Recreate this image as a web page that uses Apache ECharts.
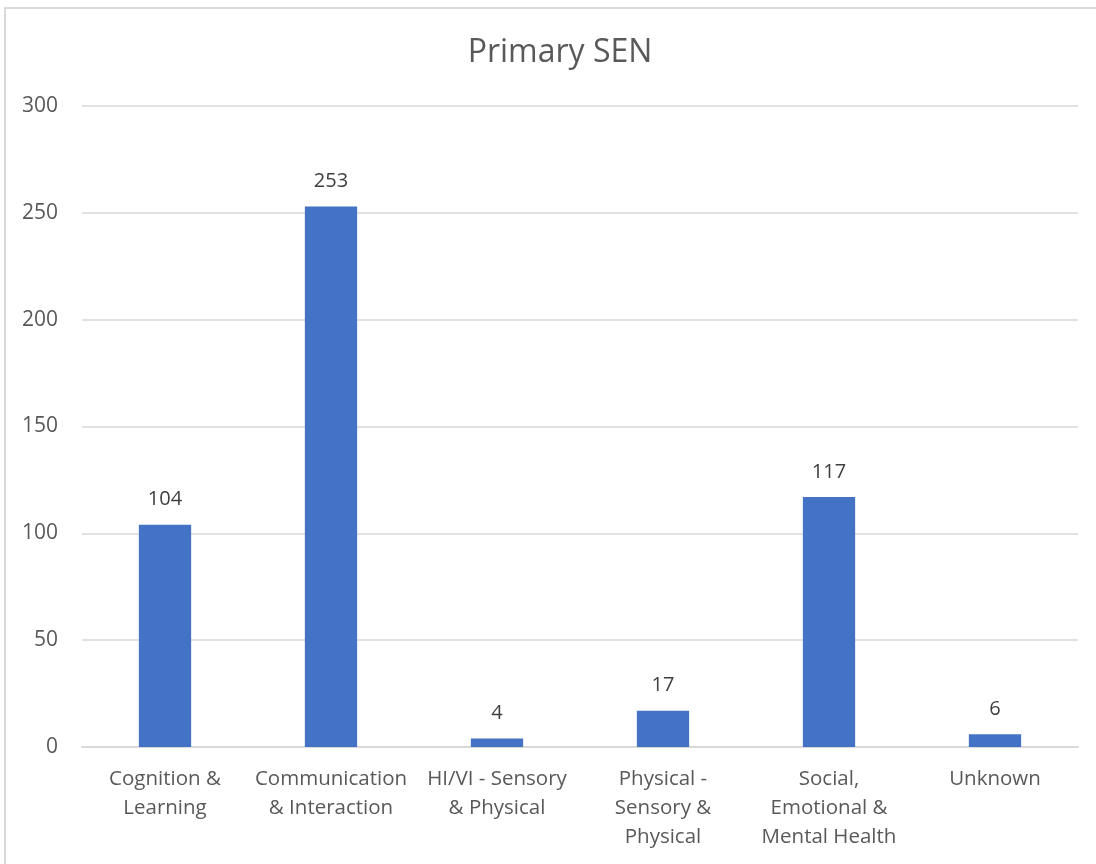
<!DOCTYPE html>
<html><head><meta charset="utf-8">
<script src="https://cdn.jsdelivr.net/npm/echarts@6/dist/echarts.min.js"></script>
<style>html,body{margin:0;padding:0;background:#fff;}#c{width:1096px;height:864px;}</style>
</head><body><div id="c"></div>
<script>
const categories = ["Cognition &\nLearning", "Communication\n& Interaction", "HI/VI - Sensory\n& Physical", "Physical -\nSensory &\nPhysical", "Social,\nEmotional &\nMental Health", "Unknown"];
const values = [104, 253, 4, 17, 117, 6];
const yTicks = [0, 50, 100, 150, 200, 250, 300];
const FONT = '"Open Sans", sans-serif';
const chart = echarts.init(document.getElementById('c'));
chart.setOption({
  animation: false,
  backgroundColor: '#fff',
  title: { text: 'Primary SEN', left: 555, textAlign: 'center', top: 32, textStyle: { fontFamily: FONT, fontSize: 32, fontWeight: 'normal', color: '#595959' } },
  graphic: [{ type: 'rect', shape: { x: 5, y: 8, width: 1200, height: 1000 }, style: { fill: 'none', stroke: '#d9d9d9', lineWidth: 2 }, silent: true }],
  grid: { left: 82, right: 18, top: 106, bottom: 117, containLabel: false },
  xAxis: { type: 'category', data: categories,
    axisLine: { lineStyle: { color: '#d9d9d9', width: 2 } }, axisTick: { show: false },
    axisLabel: { interval: 0, margin: 18, fontFamily: FONT, fontSize: 20.5, color: '#595959', lineHeight: 29 } },
  yAxis: { type: 'value', min: yTicks[0], max: yTicks[yTicks.length - 1], interval: 50,
    axisLine: { show: false }, axisTick: { show: false },
    splitLine: { lineStyle: { color: '#d9d9d9', width: 1.5 } },
    axisLabel: { margin: 24, fontFamily: FONT, fontSize: 21, color: '#595959' } },
  series: [{ type: 'bar', data: values, barWidth: '31.5%', itemStyle: { color: '#4472C4' },
    label: { show: true, position: 'top', distance: 15, fontFamily: FONT, fontSize: 20, color: '#404040' } }]
});
</script></body></html>
